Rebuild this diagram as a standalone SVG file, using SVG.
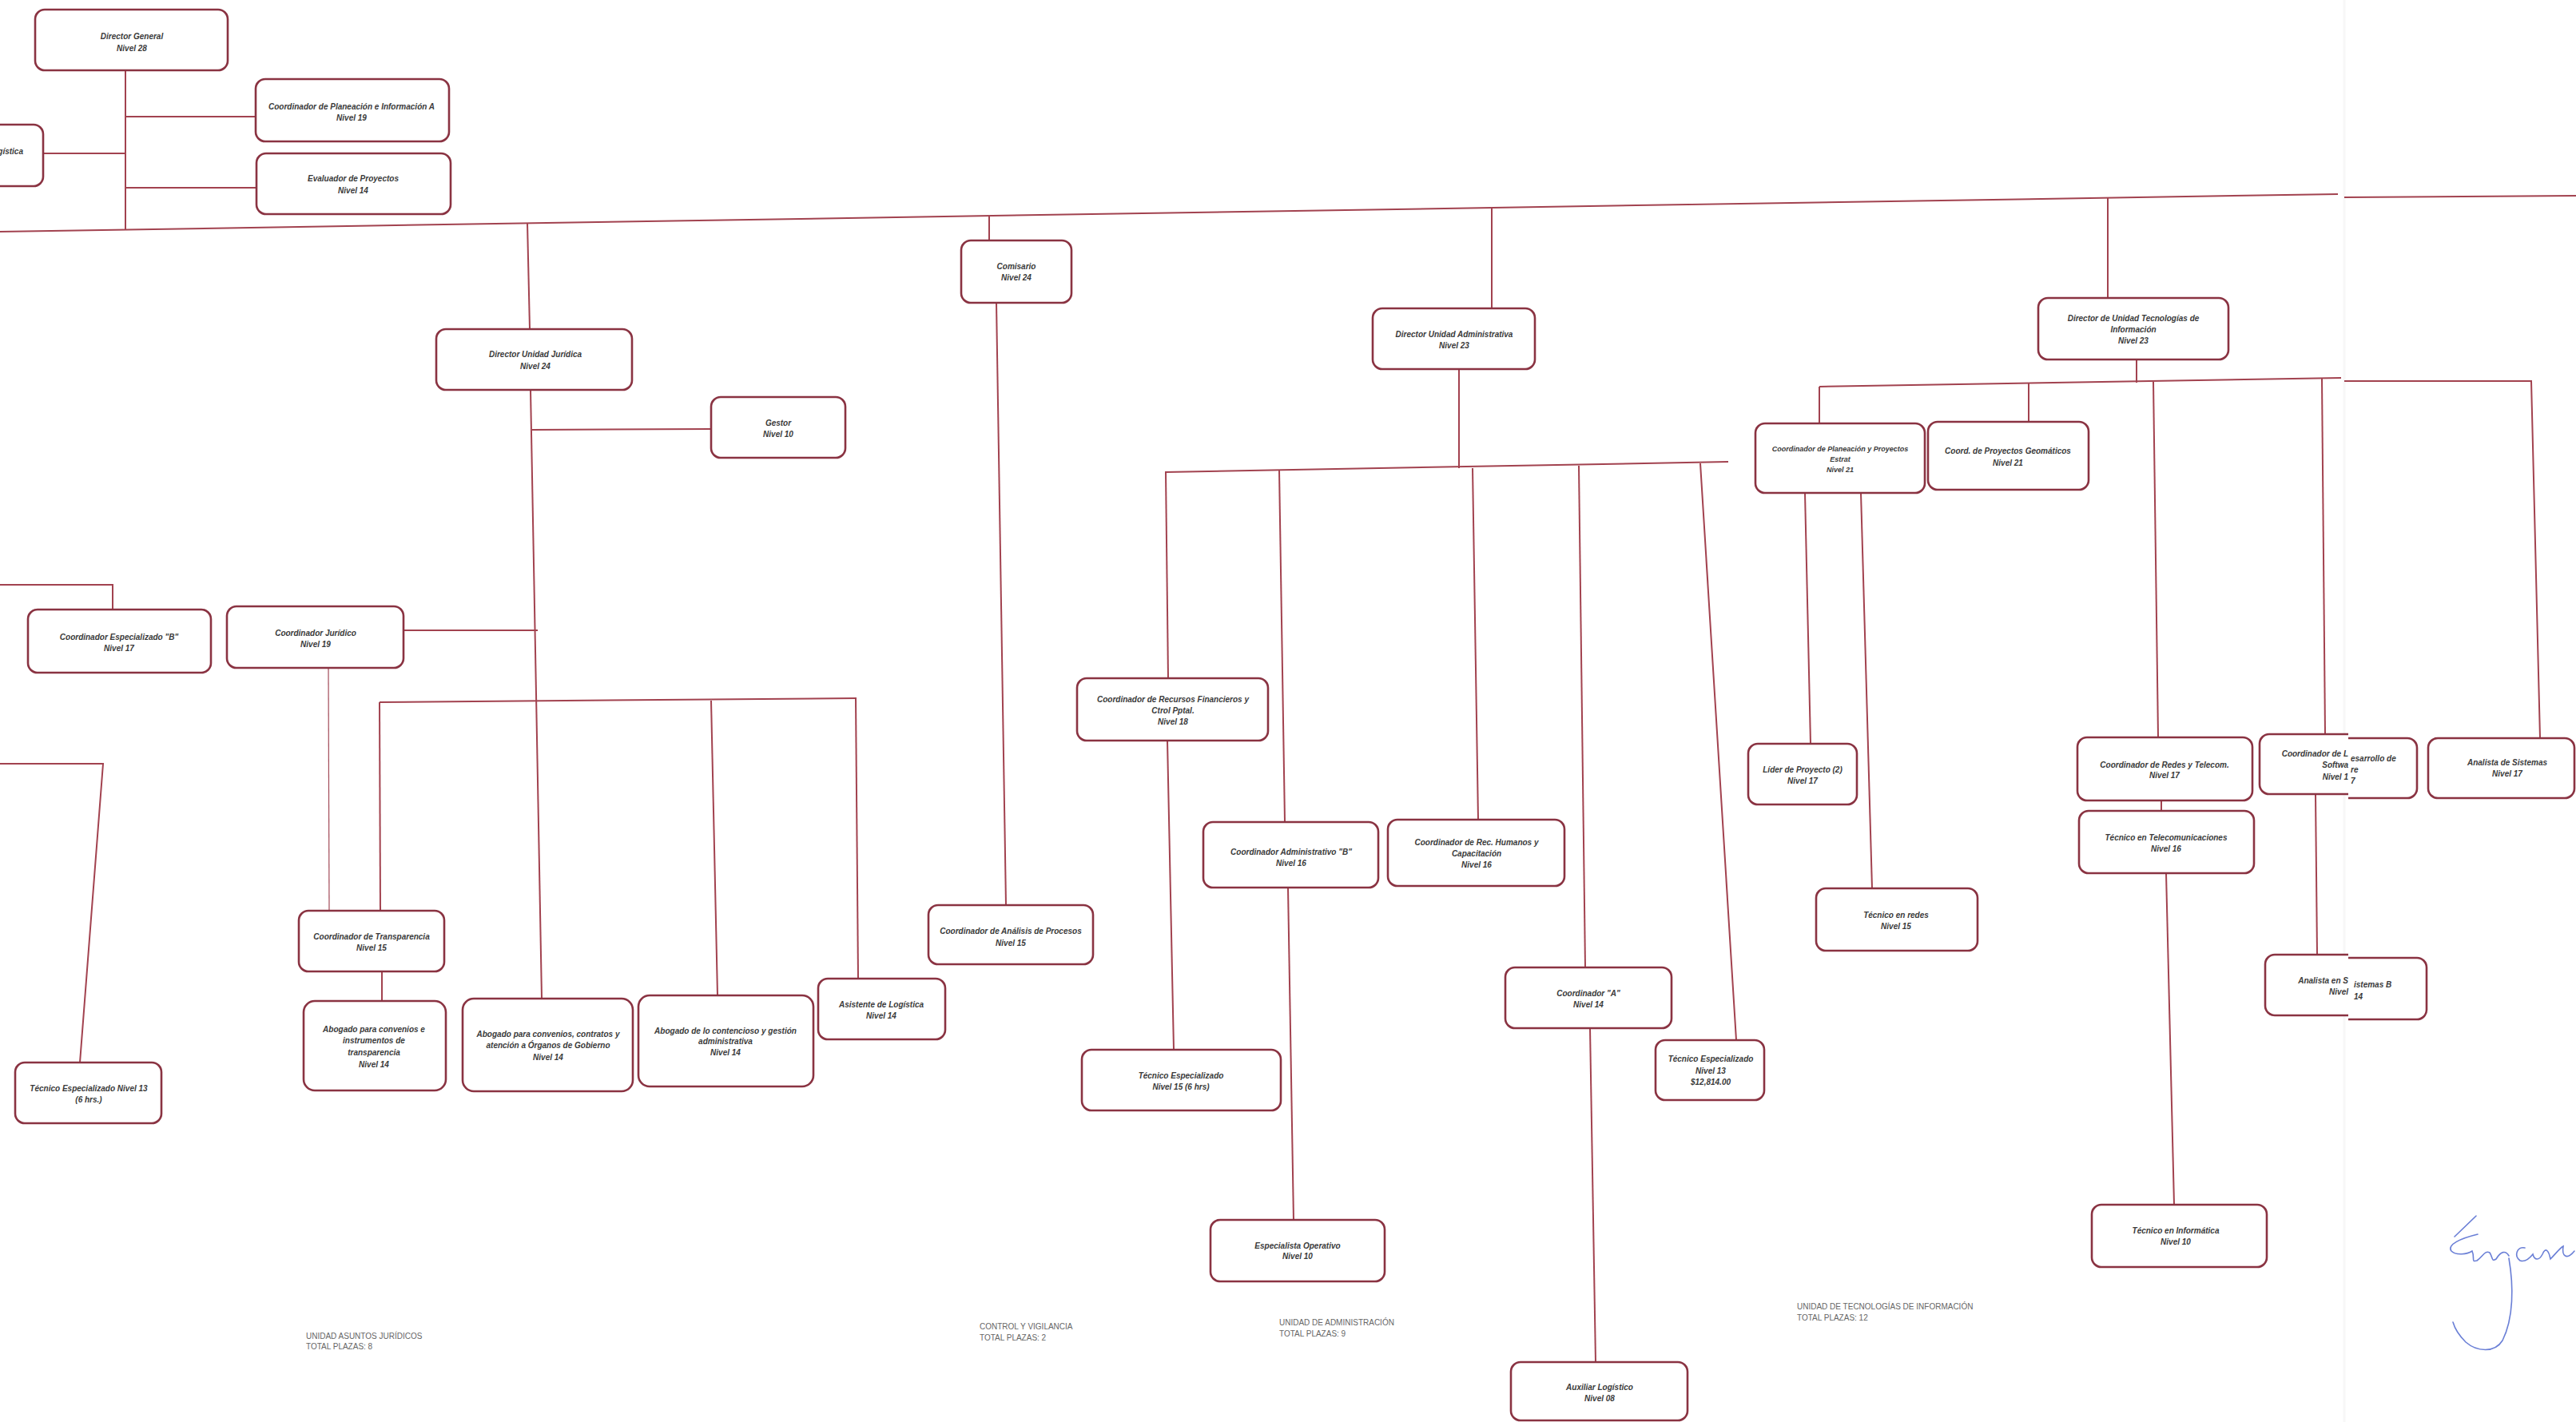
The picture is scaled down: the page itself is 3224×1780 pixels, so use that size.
<svg xmlns="http://www.w3.org/2000/svg" width="3224" height="1780" viewBox="0 0 3224 1780">
<style>
.box{fill:#fff;stroke:#8a3342;stroke-width:2.6}
.con{fill:none;stroke:#a2424f;stroke-width:2}
.thin{fill:none;stroke:#a24a58;stroke-width:1.2}
.t{font-family:"Liberation Sans",Arial,sans-serif;font-size:10px;font-style:italic;font-weight:bold;fill:#3a3a3a;text-anchor:middle}
.ts{font-size:9px}
.f{font-family:"Liberation Sans",Arial,sans-serif;font-size:10px;fill:#666}
.sig{fill:none;stroke:#6a7fd6;stroke-width:1.6;stroke-linecap:round}
</style>
<defs>
<clipPath id="clipL"><rect x="0" y="0" width="2939" height="1780"/></clipPath>
<clipPath id="clipR"><rect x="2939" y="0" width="285" height="1780"/></clipPath>
</defs>
<rect x="0" y="0" width="3224" height="1780" fill="#fff"/>
<line x1="2934" y1="0" x2="2934" y2="1780" stroke="#f7f7f7" stroke-width="3"/>

<g id="connectors">
<line class="con" x1="0" y1="290" x2="2926" y2="243"/>
<line class="con" x1="2934" y1="247" x2="3224" y2="245"/>
<line class="con" x1="157" y1="88" x2="157" y2="287"/>
<line class="con" x1="157" y1="146" x2="320" y2="146"/>
<line class="con" x1="157" y1="235" x2="321" y2="235"/>
<line class="con" x1="54" y1="192" x2="157" y2="192"/>
<line class="con" x1="660" y1="279" x2="663" y2="412"/>
<line class="con" x1="664" y1="488" x2="678" y2="1250"/>
<line class="con" x1="666" y1="538" x2="890" y2="537"/>
<line class="con" x1="505" y1="789" x2="673" y2="789"/>
<line class="thin" x1="411" y1="836" x2="412" y2="1140"/>
<line class="con" x1="475" y1="879" x2="1072" y2="874"/>
<line class="con" x1="475" y1="879" x2="476" y2="1140"/>
<line class="con" x1="890" y1="877" x2="898" y2="1246"/>
<line class="con" x1="1071" y1="874" x2="1074" y2="1225"/>
<line class="con" x1="478" y1="1216" x2="478" y2="1253"/>
<polyline class="con" points="0,732 141,732 141,763"/>
<polyline class="con" points="0,956 129,956 100,1330"/>
<line class="con" x1="1238" y1="270" x2="1238" y2="301"/>
<line class="con" x1="1247" y1="379" x2="1259" y2="1133"/>
<line class="con" x1="1867" y1="260" x2="1867" y2="386"/>
<line class="con" x1="1826" y1="462" x2="1826" y2="586"/>
<line class="con" x1="1458" y1="591" x2="2163" y2="578"/>
<line class="con" x1="1459" y1="591" x2="1462" y2="849"/>
<line class="con" x1="1601" y1="588" x2="1608" y2="1029"/>
<line class="con" x1="1843" y1="586" x2="1850" y2="1026"/>
<line class="con" x1="1976" y1="583" x2="1984" y2="1211"/>
<line class="con" x1="2128" y1="580" x2="2173" y2="1302"/>
<line class="con" x1="1461" y1="927" x2="1469" y2="1314"/>
<line class="con" x1="1612" y1="1111" x2="1619" y2="1527"/>
<line class="con" x1="1990" y1="1287" x2="1997" y2="1705"/>
<line class="con" x1="2638" y1="248" x2="2638" y2="373"/>
<line class="con" x1="2674" y1="450" x2="2674" y2="479"/>
<line class="con" x1="2277" y1="484" x2="2930" y2="473"/>
<line class="con" x1="2277" y1="484" x2="2277" y2="530"/>
<line class="con" x1="2539" y1="480" x2="2539" y2="528"/>
<line class="con" x1="2695" y1="478" x2="2701" y2="923"/>
<line class="con" x1="2906" y1="474" x2="2910" y2="919"/>
<line class="con" x1="2259" y1="617" x2="2266" y2="931"/>
<line class="con" x1="2329" y1="617" x2="2343" y2="1112"/>
<line class="con" x1="2705" y1="1002" x2="2705" y2="1015"/>
<line class="con" x1="2711" y1="1093" x2="2721" y2="1508"/>
<polyline class="con" points="2934,477 3168,477 3179,924"/>
<line class="con" x1="2898" y1="994" x2="2900" y2="1195"/>
</g>

<g id="n-dg"><rect class="box" x="44" y="12" width="241" height="76" rx="12"/><text class="t"><tspan x="165" y="49">Director General</tspan><tspan x="165" y="64">Nivel 28</tspan></text></g>
<g id="n-cpia"><rect class="box" x="320" y="99" width="242" height="78" rx="12"/><text class="t"><tspan x="440" y="137">Coordinador de Planeación e Información A</tspan><tspan x="440" y="151">Nivel 19</tspan></text></g>
<g id="n-evp"><rect class="box" x="321" y="192" width="243" height="76" rx="12"/><text class="t"><tspan x="442" y="227">Evaluador de Proyectos</tspan><tspan x="442" y="242">Nivel 14</tspan></text></g>
<g id="n-log"><rect class="box" x="-20" y="156" width="74" height="77" rx="12"/><text class="t" style="text-anchor:end"><tspan x="29" y="193">gística</tspan></text></g>

<g id="n-dujur"><rect class="box" x="546" y="412" width="245" height="76" rx="12"/><text class="t"><tspan x="670" y="447">Director Unidad Jurídica</tspan><tspan x="670" y="462">Nivel 24</tspan></text></g>
<g id="n-gestor"><rect class="box" x="890" y="497" width="168" height="76" rx="12"/><text class="t"><tspan x="974" y="533">Gestor</tspan><tspan x="974" y="547">Nivel 10</tspan></text></g>
<g id="n-cjur"><rect class="box" x="284" y="759" width="221" height="77" rx="12"/><text class="t"><tspan x="395" y="796">Coordinador Jurídico</tspan><tspan x="395" y="810">Nivel 19</tspan></text></g>
<g id="n-ceb"><rect class="box" x="35" y="763" width="229" height="79" rx="12"/><text class="t"><tspan x="149" y="801">Coordinador Especializado "B"</tspan><tspan x="149" y="815">Nivel 17</tspan></text></g>
<g id="n-tec13"><rect class="box" x="19" y="1330" width="183" height="76" rx="12"/><text class="t"><tspan x="111" y="1366">Técnico Especializado Nivel 13</tspan><tspan x="111" y="1380">(6 hrs.)</tspan></text></g>
<g id="n-ctrans"><rect class="box" x="374" y="1140" width="182" height="76" rx="12"/><text class="t"><tspan x="465" y="1176">Coordinador de Transparencia</tspan><tspan x="465" y="1190">Nivel 15</tspan></text></g>
<g id="n-abog1"><rect class="box" x="380" y="1253" width="178" height="112" rx="14"/><text class="t"><tspan x="468" y="1292">Abogado para convenios e</tspan><tspan x="468" y="1306">instrumentos de</tspan><tspan x="468" y="1321">transparencia</tspan><tspan x="468" y="1336">Nivel 14</tspan></text></g>
<g id="n-abog2"><rect class="box" x="579" y="1250" width="213" height="116" rx="14"/><text class="t"><tspan x="686" y="1298">Abogado para convenios, contratos y</tspan><tspan x="686" y="1312">atención a Órganos de Gobierno</tspan><tspan x="686" y="1327">Nivel 14</tspan></text></g>
<g id="n-abog3"><rect class="box" x="799" y="1246" width="219" height="114" rx="14"/><text class="t"><tspan x="908" y="1294">Abogado de lo contencioso y gestión</tspan><tspan x="908" y="1307">administrativa</tspan><tspan x="908" y="1321">Nivel 14</tspan></text></g>
<g id="n-asist"><rect class="box" x="1024" y="1225" width="159" height="76" rx="12"/><text class="t"><tspan x="1103" y="1261">Asistente de Logística</tspan><tspan x="1103" y="1275">Nivel 14</tspan></text></g>

<g id="n-comis"><rect class="box" x="1203" y="301" width="138" height="78" rx="12"/><text class="t"><tspan x="1272" y="337">Comisario</tspan><tspan x="1272" y="351">Nivel 24</tspan></text></g>
<g id="n-canal"><rect class="box" x="1162" y="1133" width="206" height="74" rx="12"/><text class="t"><tspan x="1265" y="1169">Coordinador de Análisis de Procesos</tspan><tspan x="1265" y="1184">Nivel 15</tspan></text></g>

<g id="n-duadm"><rect class="box" x="1718" y="386" width="203" height="76" rx="12"/><text class="t"><tspan x="1820" y="422">Director Unidad Administrativa</tspan><tspan x="1820" y="436">Nivel 23</tspan></text></g>
<g id="n-crf"><rect class="box" x="1348" y="849" width="239" height="78" rx="12"/><text class="t"><tspan x="1468" y="879">Coordinador de Recursos Financieros y</tspan><tspan x="1468" y="893">Ctrol Pptal.</tspan><tspan x="1468" y="907">Nivel 18</tspan></text></g>
<g id="n-cadb"><rect class="box" x="1506" y="1029" width="219" height="82" rx="12"/><text class="t"><tspan x="1616" y="1070">Coordinador Administrativo "B"</tspan><tspan x="1616" y="1084">Nivel 16</tspan></text></g>
<g id="n-crh"><rect class="box" x="1737" y="1026" width="221" height="83" rx="12"/><text class="t"><tspan x="1848" y="1058">Coordinador de Rec. Humanos y</tspan><tspan x="1848" y="1072">Capacitación</tspan><tspan x="1848" y="1086">Nivel 16</tspan></text></g>
<g id="n-tec15"><rect class="box" x="1354" y="1314" width="249" height="76" rx="12"/><text class="t"><tspan x="1478" y="1350">Técnico Especializado</tspan><tspan x="1478" y="1364">Nivel 15 (6 hrs)</tspan></text></g>
<g id="n-espop"><rect class="box" x="1515" y="1527" width="218" height="77" rx="12"/><text class="t"><tspan x="1624" y="1563">Especialista Operativo</tspan><tspan x="1624" y="1576">Nivel 10</tspan></text></g>
<g id="n-coorda"><rect class="box" x="1884" y="1211" width="208" height="76" rx="12"/><text class="t"><tspan x="1988" y="1247">Coordinador "A"</tspan><tspan x="1988" y="1261">Nivel 14</tspan></text></g>
<g id="n-tec13b"><rect class="box" x="2072" y="1302" width="136" height="75" rx="12"/><text class="t"><tspan x="2141" y="1329">Técnico Especializado</tspan><tspan x="2141" y="1344">Nivel 13</tspan><tspan x="2141" y="1358">$12,814.00</tspan></text></g>
<g id="n-auxlog"><rect class="box" x="1891" y="1705" width="221" height="73" rx="12"/><text class="t"><tspan x="2002" y="1740">Auxiliar Logístico</tspan><tspan x="2002" y="1754">Nivel 08</tspan></text></g>

<g id="n-duti"><rect class="box" x="2551" y="373" width="238" height="77" rx="12"/><text class="t"><tspan x="2670" y="402">Director de Unidad Tecnologías de</tspan><tspan x="2670" y="416">Información</tspan><tspan x="2670" y="430">Nivel 23</tspan></text></g>
<g id="n-cppe"><rect class="box" x="2197" y="530" width="212" height="87" rx="12"/><text class="t ts"><tspan x="2303" y="565">Coordinador de Planeación y Proyectos</tspan><tspan x="2303" y="578">Estrat</tspan><tspan x="2303" y="591">Nivel 21</tspan></text></g>
<g id="n-cpg"><rect class="box" x="2413" y="528" width="201" height="85" rx="12"/><text class="t"><tspan x="2513" y="568">Coord. de Proyectos Geomáticos</tspan><tspan x="2513" y="583">Nivel 21</tspan></text></g>
<g id="n-lider"><rect class="box" x="2188" y="931" width="136" height="76" rx="12"/><text class="t"><tspan x="2256" y="967">Líder de Proyecto (2)</tspan><tspan x="2256" y="981">Nivel 17</tspan></text></g>
<g id="n-tredes"><rect class="box" x="2273" y="1112" width="202" height="78" rx="12"/><text class="t"><tspan x="2373" y="1149">Técnico en redes</tspan><tspan x="2373" y="1163">Nivel 15</tspan></text></g>
<g id="n-credes"><rect class="box" x="2600" y="923" width="219" height="79" rx="12"/><text class="t"><tspan x="2709" y="961">Coordinador de Redes y Telecom.</tspan><tspan x="2709" y="974">Nivel 17</tspan></text></g>
<g id="n-ttel"><rect class="box" x="2602" y="1015" width="219" height="78" rx="12"/><text class="t"><tspan x="2711" y="1052">Técnico en Telecomunicaciones</tspan><tspan x="2711" y="1066">Nivel 16</tspan></text></g>
<g id="n-tinf"><rect class="box" x="2618" y="1508" width="219" height="78" rx="12"/><text class="t"><tspan x="2723" y="1544">Técnico en Informática</tspan><tspan x="2723" y="1558">Nivel 10</tspan></text></g>

<g id="n-cdes">
<rect class="box" x="2828" y="919" width="197" height="75" rx="12" clip-path="url(#clipL)"/>
<rect class="box" x="2831" y="924" width="194" height="75" rx="12" clip-path="url(#clipR)"/>
<text class="t" style="text-anchor:end"><tspan x="2939" y="947">Coordinador de L</tspan><tspan x="2939" y="961">Softwa</tspan><tspan x="2939" y="976">Nivel 1</tspan></text>
<text class="t" style="text-anchor:start"><tspan x="2942" y="953">esarrollo de</tspan><tspan x="2942" y="967">re</tspan><tspan x="2942" y="981">7</tspan></text>
</g>
<g id="n-anb">
<rect class="box" x="2835" y="1195" width="200" height="76" rx="12" clip-path="url(#clipL)"/>
<rect class="box" x="2838" y="1199" width="199" height="77" rx="12" clip-path="url(#clipR)"/>
<text class="t" style="text-anchor:end"><tspan x="2939" y="1231">Analista en S</tspan><tspan x="2939" y="1245">Nivel</tspan></text>
<text class="t" style="text-anchor:start"><tspan x="2946" y="1236">istemas B</tspan><tspan x="2946" y="1251">14</tspan></text>
</g>
<g id="n-asis"><rect class="box" x="3039" y="924" width="183" height="75" rx="12"/><text class="t"><tspan x="3138" y="958">Analista de Sistemas</tspan><tspan x="3138" y="972">Nivel 17</tspan></text></g>

<g id="footer">
<text class="f"><tspan x="383" y="1676">UNIDAD ASUNTOS JURÍDICOS</tspan><tspan x="383" y="1689">TOTAL PLAZAS: 8</tspan></text>
<text class="f"><tspan x="1226" y="1664">CONTROL Y VIGILANCIA</tspan><tspan x="1226" y="1678">TOTAL PLAZAS: 2</tspan></text>
<text class="f"><tspan x="1601" y="1659">UNIDAD DE ADMINISTRACIÓN</tspan><tspan x="1601" y="1673">TOTAL PLAZAS: 9</tspan></text>
<text class="f"><tspan x="2249" y="1639">UNIDAD DE TECNOLOGÍAS DE INFORMACIÓN</tspan><tspan x="2249" y="1653">TOTAL PLAZAS: 12</tspan></text>
</g>

<g id="signature">
<path class="sig" d="M3099 1522 L3072 1548"/>
<path class="sig" d="M3101 1545 C3080 1550 3062 1558 3068 1566 C3074 1572 3088 1570 3094 1566 C3098 1575 3092 1580 3100 1578 C3108 1572 3110 1565 3116 1568 C3120 1574 3118 1580 3124 1576 C3130 1566 3136 1565 3140 1572"/>
<path class="sig" d="M3160 1562 C3150 1560 3146 1572 3154 1578 C3160 1580 3166 1575 3170 1570 C3172 1578 3178 1578 3182 1570 C3186 1560 3190 1566 3192 1576 C3198 1570 3204 1562 3208 1560 C3206 1572 3212 1578 3222 1566"/>
<path class="sig" d="M3140 1575 C3146 1610 3146 1650 3132 1678 C3122 1694 3100 1692 3086 1680 C3078 1672 3072 1662 3070 1655"/>
</g>
</svg>
